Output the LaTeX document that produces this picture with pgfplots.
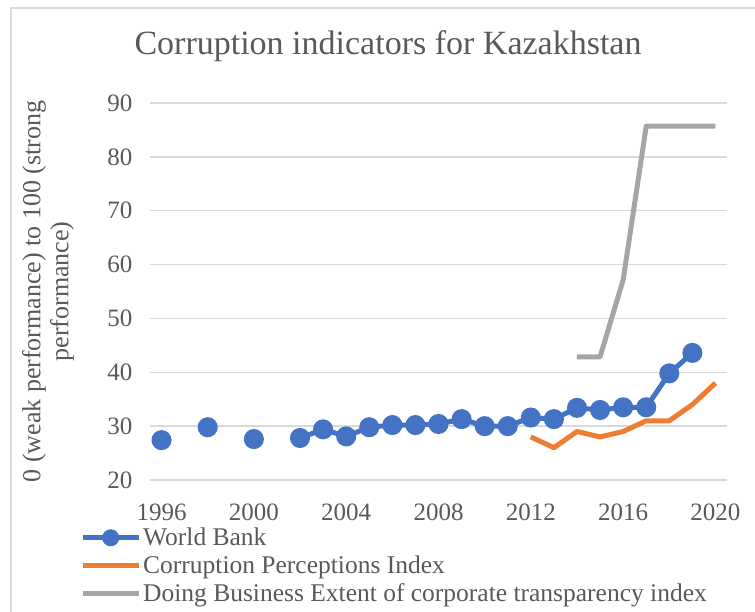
\documentclass[border=0pt]{standalone}
\usepackage{pgfplots}
\pgfplotsset{compat=1.18}
\usepackage{fontspec}
\setmainfont{Liberation Serif}
\definecolor{wbblue}{HTML}{4472C4}
\definecolor{cpiorange}{HTML}{ED7D31}
\definecolor{dbgray}{HTML}{A5A5A5}
\definecolor{gridgray}{HTML}{D9D9D9}
\definecolor{txt}{HTML}{595959}
\begin{document}
\begin{tikzpicture}[x=1pt,y=1pt]
\path[use as bounding box] (0,0) rectangle (755,612);
\draw[gridgray,line width=1.5pt] (11,0) -- (11,604) -- (755,604);
\begin{axis}[
  at={(150pt,132pt)}, anchor=south west,
  scale only axis, width=577pt, height=377pt,
  xmin=1995.5, xmax=2020.5, ymin=20, ymax=90,
  xtick={1996,2000,...,2020}, ytick={20,30,...,90},
  axis line style={draw=none},
  tick style={draw=none},
  ymajorgrids, grid style={gridgray,line width=1.5pt},
  unbounded coords=jump,
  /pgf/number format/assume math mode=true,
  /pgf/number format/1000 sep={},
  ticklabel style={font=\fontsize{25}{29}\selectfont, text=txt},
  xticklabel style={yshift=-20pt},
  yticklabel style={xshift=-14pt},
  title={Corruption indicators for Kazakhstan},
  title style={at={(axis description cs:0.4125,1.114)}, anchor=base, font=\fontsize{34}{38}\selectfont, text=txt},
  ylabel={0 (weak performance) to 100 (strong\\performance)},
  ylabel style={at={(axis description cs:-0.177,0.5)}, anchor=center, align=center, font=\fontsize{26}{28}\selectfont, text=txt},
  legend style={at={(axis description cs:0,0)}, anchor=north west, xshift=-70pt, yshift=-46pt,
    draw=none, fill=none, font=\fontsize{25.5}{28}\selectfont, text=txt,
    row sep=4.5pt, inner sep=0pt, nodes={inner sep=2pt}},
  legend cell align=left,
  legend image code/.code={\draw[mark repeat=2,mark phase=2,#1,mark size=6pt] plot coordinates {(0pt,0pt) (28pt,0pt) (56pt,0pt)};},
]
\addplot[wbblue, line width=5pt, mark=*, mark size=7.5pt, mark options={solid}] coordinates {
 (1996,27.4) (1997,nan) (1998,29.8) (1999,nan) (2000,27.6) (2001,nan)
 (2002,27.8) (2003,29.4) (2004,28.1) (2005,29.8) (2006,30.2) (2007,30.2)
 (2008,30.4) (2009,31.3) (2010,30.0) (2011,30.0) (2012,31.6) (2013,31.3)
 (2014,33.4) (2015,33.0) (2016,33.5) (2017,33.5) (2018,39.8) (2019,43.6)};
\addlegendentry{World Bank}
\addplot[cpiorange, line width=5pt, line join=round] coordinates {
 (2012,28) (2013,26) (2014,29) (2015,28) (2016,29) (2017,31) (2018,31) (2019,34) (2020,38)};
\addlegendentry{Corruption Perceptions Index}
\addplot[dbgray, line width=5pt, line join=round] coordinates {
 (2014,42.86) (2015,42.86) (2016,57.14) (2017,85.71) (2018,85.71) (2019,85.71) (2020,85.71)};
\addlegendentry{Doing Business Extent of corporate transparency index}
\end{axis}
\end{tikzpicture}
\end{document}
